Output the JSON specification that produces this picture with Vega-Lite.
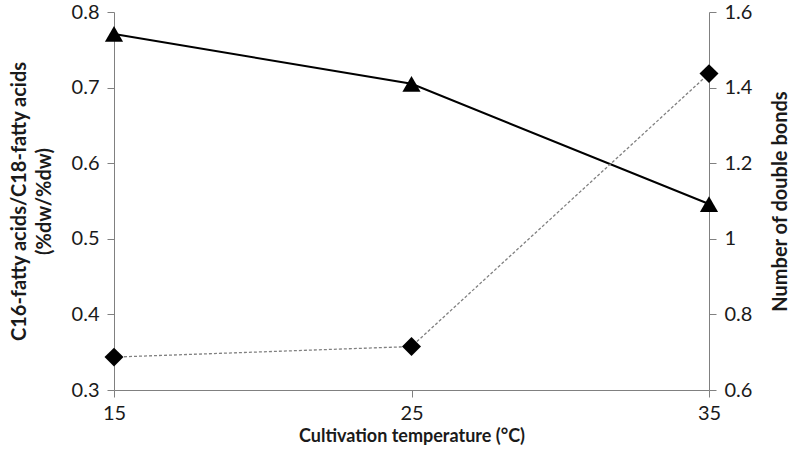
{
  "$schema": "https://vega.github.io/schema/vega-lite/v6.json",
  "width": 595,
  "height": 378,
  "autosize": "none",
  "padding": {"left": 114, "top": 12, "right": 84, "bottom": 65},
  "background": "white",
  "config": {
    "view": {"stroke": null},
    "font": "Lato",
    "axis": {
      "grid": false,
      "domainColor": "#808080",
      "tickColor": "#808080",
      "labelFont": "Lato",
      "labelFontSize": 20,
      "labelColor": "#1a1a1a",
      "titleFont": "Lato",
      "titleFontSize": 20,
      "titleFontWeight": "bold",
      "titleColor": "#1a1a1a",
      "tickSize": 7
    }
  },
  "data": {
    "values": [
      {"temp": 15, "ratio": 0.771, "bonds": 0.687},
      {"temp": 25, "ratio": 0.705, "bonds": 0.715},
      {"temp": 35, "ratio": 0.546, "bonds": 1.437}
    ]
  },
  "encoding": {
    "x": {
      "field": "temp",
      "type": "quantitative",
      "scale": {"domain": [15, 35], "nice": false, "zero": false},
      "axis": {
        "values": [15, 25, 35],
        "title": "Cultivation temperature (°C)",
        "titleFontSize": 18,
        "labelPadding": 6,
        "titlePadding": 4,
        "labelFlush": false
      }
    }
  },
  "layer": [
    {
      "encoding": {
        "y": {
          "field": "ratio",
          "type": "quantitative",
          "scale": {"domain": [0.3, 0.8], "nice": false, "zero": false},
          "axis": {
            "orient": "left",
            "values": [0.3, 0.4, 0.5, 0.6, 0.7, 0.8],
            "format": ".1f",
            "title": ["C16-fatty acids/C18-fatty acids", "(%dw/%dw)"],
            "titleLineHeight": 25,
            "labelPadding": 8,
            "titlePadding": 17
          }
        }
      },
      "layer": [
        {"mark": {"type": "line", "color": "black", "strokeWidth": 2}},
        {"mark": {"type": "point", "shape": "triangle-up", "filled": true, "color": "black", "size": 330, "opacity": 1}}
      ]
    },
    {
      "encoding": {
        "y": {
          "field": "bonds",
          "type": "quantitative",
          "scale": {"domain": [0.6, 1.6], "nice": false, "zero": false},
          "axis": {
            "orient": "right",
            "values": [0.6, 0.8, 1, 1.2, 1.4, 1.6],
            "format": ".1~f",
            "title": "Number of double bonds",
            "titleAngle": 270,
            "titleBaseline": "top",
            "labelPadding": 8,
            "titlePadding": 19
          }
        }
      },
      "layer": [
        {"mark": {"type": "line", "color": "#808080", "strokeWidth": 1.3, "strokeDash": [3, 2]}},
        {"mark": {"type": "point", "shape": "diamond", "filled": true, "color": "black", "size": 360, "opacity": 1}}
      ]
    }
  ],
  "resolve": {"scale": {"y": "independent"}}
}
